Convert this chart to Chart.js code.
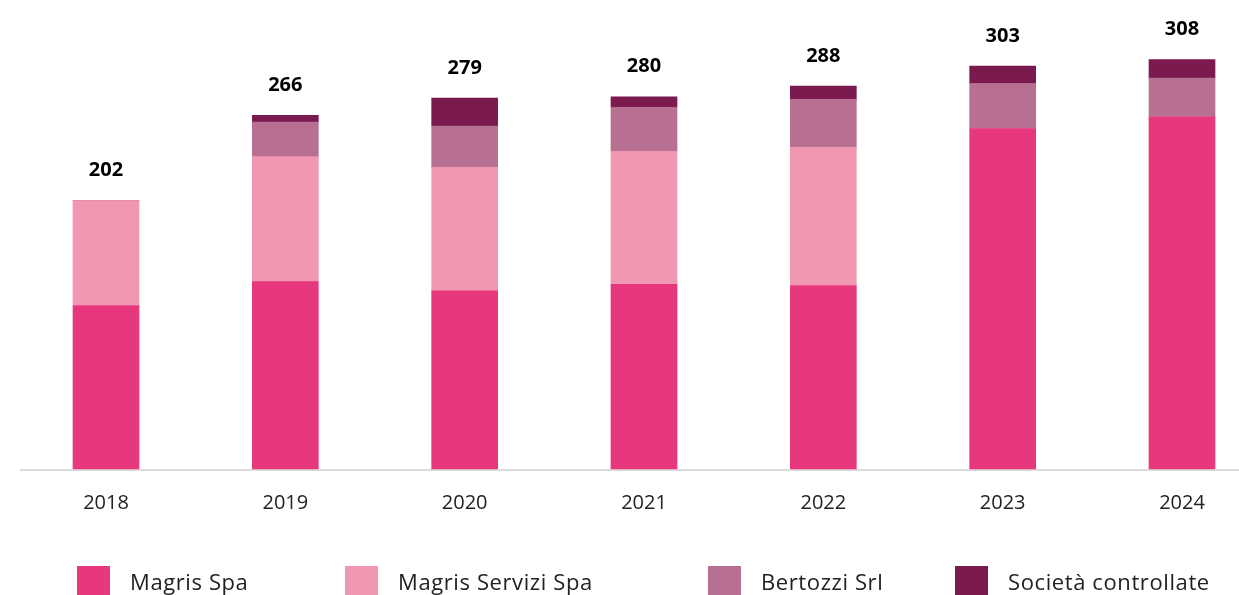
<!DOCTYPE html>
<html lang="it">
<head>
<meta charset="utf-8">
<title>Dipendenti per società</title>
<script src="https://cdn.jsdelivr.net/npm/chart.js@4/dist/chart.umd.min.js"></script>
<style>
  html, body { margin: 0; padding: 0; background: #fff; }
  .wrap { position: relative; width: 1239px; height: 595px; }
  canvas { position: absolute; left: 0; top: 0; }
  .legend { position: absolute; left: 0; top: 566px; width: 1239px; height: 29px; font-family: "Open Sans", Lato, sans-serif; font-size: 22px; letter-spacing: 0.6px; color: #222; }
  .legend-item { position: absolute; top: 0; display: flex; align-items: center; height: 29px; white-space: nowrap; }
  .legend-item:nth-child(1) { left: 77px; }
  .legend-item:nth-child(2) { left: 345px; }
  .legend-item:nth-child(3) { left: 708px; }
  .legend-item:nth-child(4) { left: 955px; }
  .legend-box { width: 33px; height: 29px; margin-right: 20px; }
</style>
</head>
<body>
<div class="wrap">
  <canvas id="chart" width="1239" height="595"></canvas>
  <div class="legend" id="legend"></div>
</div>
<script>
const years = ['2018', '2019', '2020', '2021', '2022', '2023', '2024'];
const magrisSpa = [123, 141, 134, 139, 138, 256, 265];
const magrisServizi = [79, 94, 93, 100, 104, 0, 0];
const bertozzi = [0, 26, 31, 33, 36, 34, 29];
const controllate = [0, 5, 21, 8, 10, 13, 14];
const totals = [202, 266, 279, 280, 288, 303, 308];

const seriesNames = ['Magris Spa', 'Magris Servizi Spa', 'Bertozzi Srl', 'Società controllate'];
const seriesColors = ['#e8387d', '#f097b2', '#b77091', '#7a1a4e'];

// baseline across the whole width, like the original
const baseline = {
  id: 'baseline',
  beforeDatasetsDraw(chart) {
    const { ctx, scales } = chart;
    const y = scales.y.getPixelForValue(0);
    ctx.save();
    ctx.strokeStyle = '#dddddd';
    ctx.lineWidth = 2;
    ctx.beginPath();
    ctx.moveTo(20, y + 1);
    ctx.lineTo(chart.width, y + 1);
    ctx.stroke();
    ctx.restore();
  }
};

// totals above each stack
const totalLabels = {
  id: 'totalLabels',
  afterDatasetsDraw(chart) {
    const { ctx, scales } = chart;
    ctx.save();
    ctx.font = 'bold 20px "Open Sans", Lato, sans-serif';
    ctx.fillStyle = '#000';
    ctx.textAlign = 'center';
    ctx.textBaseline = 'middle';
    totals.forEach((t, i) => {
      const x = scales.x.getPixelForValue(i);
      const y = scales.y.getPixelForValue(t);
      ctx.fillText(String(t), x, y - 30);
    });
    ctx.restore();
  }
};

const seriesData = [magrisSpa, magrisServizi, bertozzi, controllate];

const chart = new Chart(document.getElementById('chart'), {
  type: 'bar',
  data: {
    labels: years,
    datasets: seriesNames.map((name, i) => ({
      label: name,
      data: seriesData[i],
      backgroundColor: seriesColors[i],
      borderWidth: 0,
      barThickness: 66,
      clip: false,
    })),
  },
  options: {
    responsive: false,
    animation: false,
    layout: {
      padding: { left: 106, right: 57, top: 17, bottom: 0 },
    },
    plugins: {
      legend: { display: false },
      tooltip: { enabled: false },
    },
    scales: {
      x: {
        stacked: true,
        offset: false,
        grid: { display: false },
        border: { display: false },
        ticks: {
          color: '#222',
          font: { family: '"Open Sans", Lato, sans-serif', size: 20 },
          padding: 14,
          maxRotation: 0,
        },
        afterFit(axis) { axis.height = 126; },
      },
      y: {
        stacked: true,
        display: false,
        min: 0,
        max: 340,
      },
    },
  },
  plugins: [baseline, totalLabels],
});

const legendEl = document.getElementById('legend');
seriesNames.forEach((name, i) => {
  const item = document.createElement('div');
  item.className = 'legend-item';
  const box = document.createElement('span');
  box.className = 'legend-box';
  box.style.background = seriesColors[i];
  const label = document.createElement('span');
  label.textContent = name;
  item.appendChild(box);
  item.appendChild(label);
  legendEl.appendChild(item);
});
</script>
</body>
</html>
